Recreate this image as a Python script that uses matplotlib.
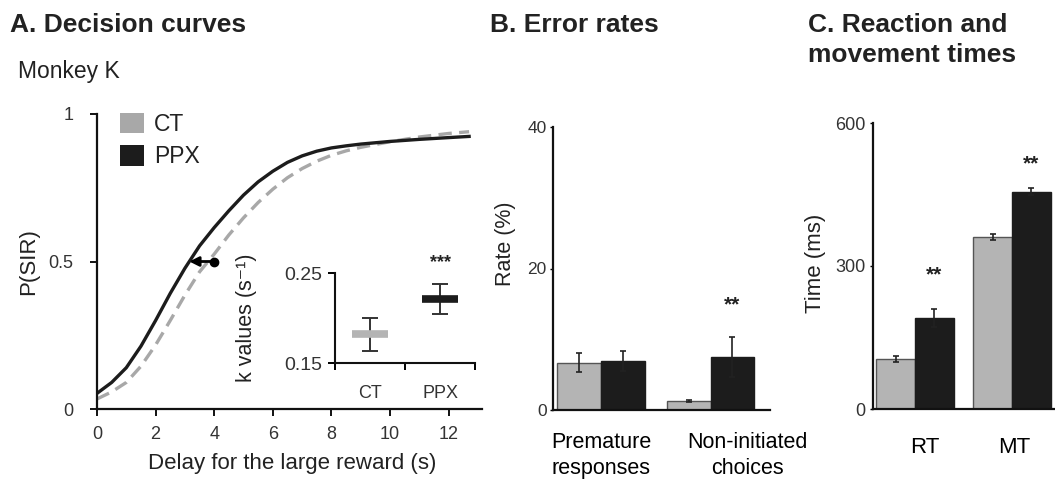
import matplotlib
matplotlib.use('Agg')
import matplotlib.pyplot as plt
from matplotlib.patches import Patch
import numpy as np

plt.rcParams['font.family'] = ['Liberation Sans', 'DejaVu Sans']
plt.rcParams['text.color'] = '#222222'
plt.rcParams['axes.labelcolor'] = '#222222'

# --- A. decision curves ---
delay = [0, 0.5, 1, 1.5, 2, 2.5, 3, 3.5, 4, 4.5, 5, 5.5, 6, 6.5, 7, 7.5, 8, 8.5, 9,
         10, 11, 12, 12.7]
p_ct = [0.034, 0.058, 0.09, 0.145, 0.217, 0.30, 0.386, 0.465, 0.525, 0.59, 0.648, 0.70,
        0.745, 0.784, 0.815, 0.84, 0.86, 0.875, 0.887, 0.906, 0.922, 0.934, 0.94]
p_ppx = [0.053, 0.09, 0.14, 0.213, 0.30, 0.392, 0.477, 0.553, 0.615, 0.672, 0.725, 0.77,
         0.806, 0.836, 0.858, 0.874, 0.885, 0.892, 0.898, 0.907, 0.914, 0.92, 0.924]
ct_half = 4.0
ppx_half = 3.15

# inset: k values
k_groups = ['CT', 'PPX']
k_mean = [0.182, 0.221]
k_sem = [0.0185, 0.0165]

# --- B. error rates ---
err_groups = ['Premature\nresponses', 'Non-initiated\nchoices']
err_ct = [6.7, 1.3]
err_ct_sem = [1.3, 0.15]
err_ppx = [6.9, 7.5]
err_ppx_sem = [1.4, 2.8]

# --- C. reaction / movement times ---
time_groups = ['RT', 'MT']
time_ct = [105, 361]
time_ct_sem = [7, 7]
time_ppx = [191, 456]
time_ppx_sem = [18, 8]

GRAY = '#b4b4b4'
LGRAY = '#a8a8a8'
BLACK = '#1c1c1c'

W, H = 1055, 484
fig = plt.figure(figsize=(W / 100, H / 100), dpi=100)


def px(l, t, r, b):
    return [l / W, 1 - b / H, (r - l) / W, (b - t) / H]


def clean(ax, lw=1.6):
    for s in ['top', 'right']:
        ax.spines[s].set_visible(False)
    for s in ['left', 'bottom']:
        ax.spines[s].set_linewidth(lw)
        ax.spines[s].set_color('#111111')


# ---------- panel A ----------
ax = fig.add_axes(px(97, 114, 482, 409))
clean(ax)
ax.plot(delay, p_ct, color=LGRAY, lw=2.4, dashes=(4, 2.2), solid_joinstyle='round')
ax.plot(delay, p_ppx, color=BLACK, lw=2.4, solid_joinstyle='round')
ax.annotate('', xy=(ppx_half, 0.5), xytext=(ct_half, 0.5),
            arrowprops=dict(arrowstyle='-|>', color='k', lw=2, shrinkA=0, shrinkB=0,
                            mutation_scale=14))
ax.plot([ct_half], [0.5], 'o', color='k', ms=6)
ax.set_xlim(0, 13.14)
ax.set_ylim(0, 1)
ax.set_xticks([0, 2, 4, 6, 8, 10, 12])
ax.set_yticks([0, 0.5, 1])
ax.set_yticklabels(['0', '0.5', '1'])
ax.tick_params(axis='both', labelsize=13, colors='#111111', labelcolor='#333333',
               width=1.4, length=5)
ax.tick_params(axis='x', pad=7)
ax.tick_params(axis='y', pad=12)
ax.set_xlabel('Delay for the large reward (s)', fontsize=16)
ax.xaxis.set_label_coords(0.506, -0.15)
ax.set_ylabel('P(SIR)', fontsize=16)
ax.yaxis.set_label_coords(-0.15, 0.5)
ax.legend(handles=[Patch(facecolor=LGRAY, label='CT'), Patch(facecolor=BLACK, label='PPX')],
          loc='upper left', bbox_to_anchor=(0.035, 1.035), frameon=False, fontsize=16.5,
          handlelength=1.05, handleheight=1.0, handletextpad=0.45, labelspacing=0.4,
          borderaxespad=0)

# inset
ins = fig.add_axes(px(335, 273, 475, 363))
clean(ins, 1.5)
xk = np.arange(len(k_groups))
ins.errorbar(xk, k_mean, yerr=k_sem, fmt='none', ecolor='#333333', elinewidth=1.4,
             capsize=6, capthick=1.4)
ins.scatter(xk, k_mean, marker='_', s=700, linewidths=5.5, c=[GRAY, BLACK], zorder=3)
ins.text(1, 0.262, '***', ha='center', va='center', fontsize=13, fontweight='bold')
ins.set_xlim(-0.5, 1.5)
ins.set_ylim(0.15, 0.25)
ins.set_yticks([0.15, 0.25])
ins.set_yticklabels(['0.15', '0.25'])
ins.set_xticks(xk)
ins.set_xticklabels(k_groups)
ins.set_xticks([-0.5, 0.5, 1.5], minor=True)
ins.tick_params(axis='x', which='major', length=0, pad=16, labelsize=13, labelcolor='#333333')
ins.tick_params(axis='x', which='minor', length=5, width=1.4)
ins.tick_params(axis='y', length=5, width=1.4, pad=4, labelsize=14, labelcolor='#333333')
ins.set_ylabel('k values (s\u207b\u00b9)', fontsize=15.5)
ins.yaxis.set_label_coords(-0.56, 0.5)
ins.patch.set_alpha(0)

# ---------- panel B ----------
bx = fig.add_axes(px(553, 127, 770, 410))
clean(bx, 1.6)
xb = np.arange(len(err_groups))
bw = 0.40
ekw = dict(ecolor='#222222', elinewidth=1.2, capsize=2.5, capthick=1.2)
bx.bar(xb - bw / 2, err_ct, bw, yerr=err_ct_sem, color=GRAY, edgecolor='#555555',
       linewidth=1, error_kw=ekw)
bx.bar(xb + bw / 2, err_ppx, bw, yerr=err_ppx_sem, color=BLACK, edgecolor=BLACK,
       linewidth=1, error_kw=ekw)
bx.text(1 + bw / 2, 14.8, '**', ha='center', va='center', fontsize=15, fontweight='bold')
bx.set_xlim(-0.438, 1.543)
bx.set_ylim(0, 40)
bx.set_yticks([0, 20, 40])
bx.set_xticks([0, 1.34])
bx.set_xticklabels(err_groups, fontsize=15.5, linespacing=1.3)
bx.tick_params(axis='x', length=0, pad=16)
bx.tick_params(axis='y', length=2.5, width=1, pad=2, labelsize=12.5, labelcolor='#333333')
bx.set_ylabel('Rate (%)', fontsize=15.5)
bx.yaxis.set_label_coords(-0.17, 0.587)

# ---------- panel C ----------
cx = fig.add_axes(px(873, 123, 1055, 409))
clean(cx, 1.6)
xc = np.arange(len(time_groups))
cx.bar(xc - bw / 2, time_ct, bw, yerr=time_ct_sem, color=GRAY, edgecolor='#555555',
       linewidth=1, error_kw=ekw)
cx.bar(xc + bw / 2, time_ppx, bw, yerr=time_ppx_sem, color=BLACK, edgecolor=BLACK,
       linewidth=1, error_kw=ekw)
cx.text(0 + bw / 2, 282, '**', ha='center', va='center', fontsize=15, fontweight='bold')
cx.text(1 + bw / 2, 514, '**', ha='center', va='center', fontsize=15, fontweight='bold')
cx.set_xlim(-0.433, 1.443)
cx.set_ylim(0, 600)
cx.set_yticks([0, 300, 600])
cx.set_xticks([0.1, 1.02])
cx.set_xticklabels(time_groups, fontsize=16)
cx.tick_params(axis='x', length=0, pad=20)
cx.tick_params(axis='y', length=2.5, width=1, pad=3, labelsize=13, labelcolor='#333333')
cx.set_ylabel('Time (ms)', fontsize=16)
cx.yaxis.set_label_coords(-0.258, 0.51)

# ---------- titles ----------
ttl = dict(fontsize=19, fontweight='bold', va='baseline')
fig.text(10 / W, 1 - 32 / H, 'A. Decision curves', **ttl)
fig.text(18 / W, 1 - 78 / H, 'Monkey K', fontsize=16.5, va='baseline')
fig.text(490 / W, 1 - 32 / H, 'B. Error rates', **ttl)
fig.text(808 / W, 1 - 32 / H, 'C. Reaction and', **ttl)
fig.text(808 / W, 1 - 62 / H, 'movement times', **ttl)

fig.savefig('out.png', dpi=100)
